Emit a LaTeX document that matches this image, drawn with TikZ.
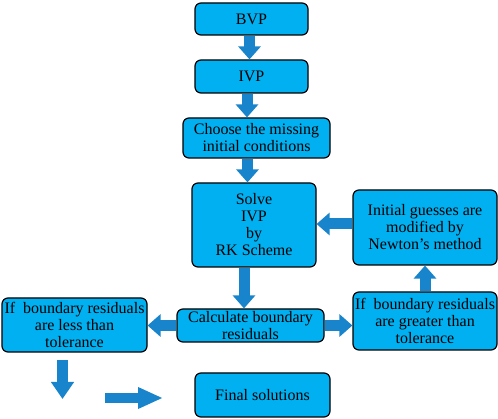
\documentclass[tikz,border=0pt]{standalone}
\usepackage{fontspec}
\setmainfont{Liberation Serif}
\usetikzlibrary{arrows.meta,positioning,calc}
\definecolor{boxblue}{RGB}{0,176,240}
\definecolor{arrowblue}{RGB}{24,132,204}

\begin{document}
\begin{tikzpicture}[x=1pt,y=-1pt]
\tikzset{stepbox/.style={draw=black, line width=1.2pt, fill=boxblue, rounded corners=6pt, align=center, inner sep=2pt, font=\fontsize{16}{17}\selectfont}}
\tikzset{blockarrow/.style={draw=arrowblue, line width=11pt, -{Triangle[width=22pt,length=13pt]}}}
\useasboundingbox (0,0) rectangle (498,419);

\node[stepbox, minimum width=113pt, minimum height=32pt](bvp) at (251.5,19) {BVP};
\node[stepbox, minimum width=113pt, minimum height=33pt](ivp) at (251.5,76.5) {IVP};
\node[stepbox, minimum width=147pt, minimum height=40pt](choose) at (256.5,138) {Choose the missing\\initial conditions};
\node[stepbox, minimum width=124pt, minimum height=84pt](solve) at (254,225) {Solve\\IVP\\by\\RK Scheme};
\node[stepbox, minimum width=147pt, minimum height=33pt](calc) at (250.5,325.5) {Calculate boundary\\residuals};
\node[stepbox, minimum width=135pt, minimum height=44pt](final) at (262.5,395) {Final solutions};
\node[stepbox, minimum width=144pt, minimum height=75pt](initial) at (425,227.5) {Initial guesses are\\modified by\\Newton's method};
\node[stepbox, minimum width=144pt, minimum height=58pt](greater) at (425,321) {If\ \ boundary residuals\\are greater than\\tolerance};
\node[stepbox, minimum width=145pt, minimum height=54pt](less) at (74.5,325) {If\ \ boundary residuals\\are less than\\tolerance};

% loose arrows under the left box
\coordinate(lesstop) at (62.5,360);
\coordinate(lessend) at (62.5,399);
\coordinate(finstart) at (105,398);
\coordinate(finend) at (163,398);

\draw[blockarrow] ([xshift=-2pt]bvp.south) -- ([xshift=-2pt]ivp.north);
\draw[blockarrow] ([xshift=-4.5pt]ivp.south) -- ([xshift=-4.5pt]ivp.south |- choose.north);
\draw[blockarrow] ([xshift=-9pt]choose.south) -- ([xshift=-9pt]choose.south |- solve.north);
\draw[blockarrow] ([xshift=-10pt]solve.south) -- ([xshift=-10pt]solve.south |- calc.north);
\draw[blockarrow] (calc.west) -- (calc.west -| less.east);
\draw[blockarrow] (calc.east) -- (calc.east -| greater.west);
\draw[blockarrow] (greater.north) -- (initial.south);
\draw[blockarrow] ([yshift=3.5pt]initial.west) -- ([yshift=3.5pt]initial.west -| solve.east);
\draw[blockarrow, -{Triangle[width=22pt,length=17pt]}] (lesstop) -- (lessend);
\draw[blockarrow, line width=10pt, -{Triangle[width=20pt,length=25pt]}] (finstart) -- (finend);
\end{tikzpicture}
\end{document}
